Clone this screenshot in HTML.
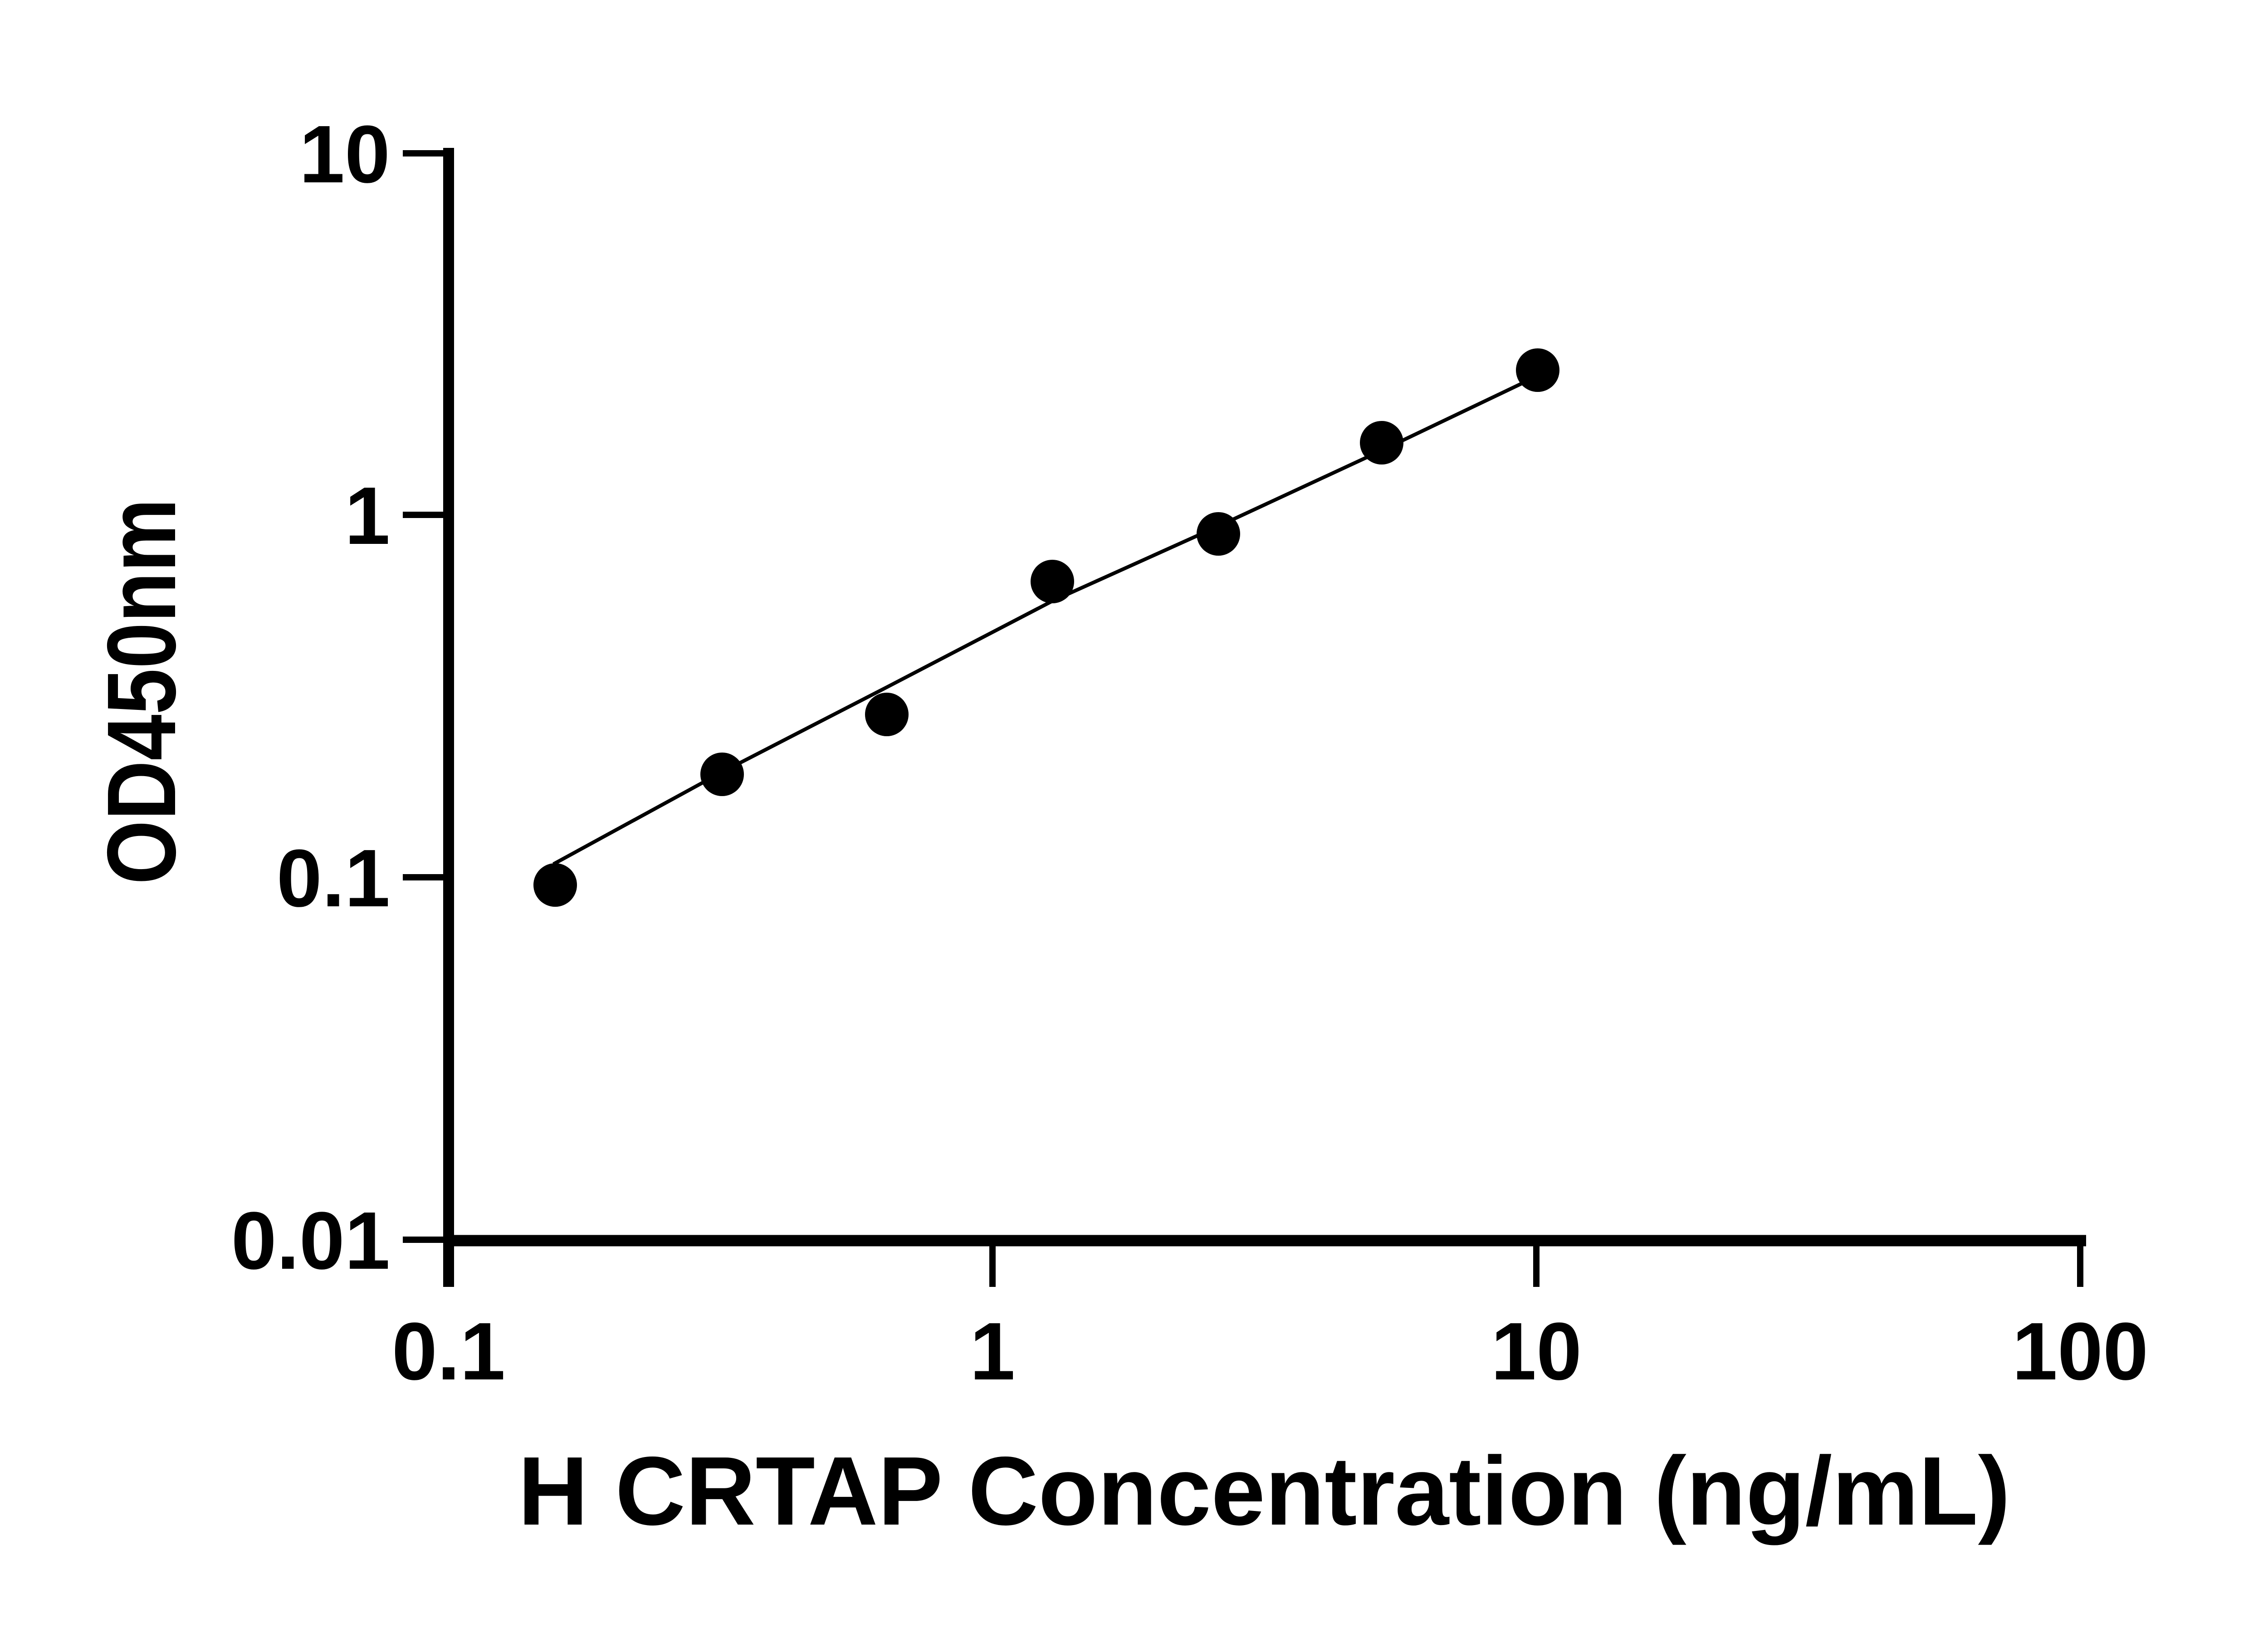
<!DOCTYPE html>
<html><head><meta charset="utf-8"><style>
html,body{margin:0;padding:0;background:#fff;}
svg{display:block;}
text{font-family:"Liberation Sans",sans-serif;font-weight:bold;fill:#000;}
</style></head><body>
<svg width="5142" height="3600" viewBox="0 0 5142 3600" xmlns="http://www.w3.org/2000/svg">
<g stroke="#000" fill="none">
<line x1="989" y1="326" x2="989" y2="2837" stroke-width="24"/>
<line x1="977" y1="2735" x2="4599" y2="2735" stroke-width="25"/>
<g stroke-width="14">
<line x1="888" y1="338" x2="989" y2="338"/>
<line x1="888" y1="1135" x2="989" y2="1135"/>
<line x1="888" y1="1934" x2="989" y2="1934"/>
<line x1="888" y1="2733" x2="989" y2="2733"/>
<line x1="989" y1="2735" x2="989" y2="2837"/>
<line x1="2188" y1="2735" x2="2188" y2="2837"/>
<line x1="3387" y1="2735" x2="3387" y2="2837"/>
<line x1="4586" y1="2735" x2="4586" y2="2837"/>
</g>
<polyline points="1220,1905 1592,1702 1955,1515 2320,1325 2686,1160 3046,993 3387,830" stroke-width="8"/>
</g>
<g fill="#000">
<circle cx="1224" cy="1951" r="48"/>
<circle cx="1592" cy="1707" r="48"/>
<circle cx="1955" cy="1575" r="48"/>
<circle cx="2320" cy="1282" r="48"/>
<circle cx="2686" cy="1177" r="48"/>
<circle cx="3046" cy="976" r="48"/>
<circle cx="3390" cy="816" r="48"/>
</g>
<g font-size="180" text-anchor="end">
<text x="860" y="402">10</text>
<text x="860" y="1199">1</text>
<text x="860" y="1998">0.1</text>
<text x="860" y="2797">0.01</text>
</g>
<g font-size="180" text-anchor="middle">
<text x="989" y="3041">0.1</text>
<text x="2188" y="3041">1</text>
<text x="3387" y="3041">10</text>
<text x="4586" y="3041">100</text>
</g>
<text x="1142" y="3361" font-size="215" textLength="3290" lengthAdjust="spacingAndGlyphs">H CRTAP Concentration (ng/mL)</text>
<text transform="translate(386,1950) rotate(-90)" x="0" y="0" font-size="215" textLength="851" lengthAdjust="spacingAndGlyphs">OD450nm</text>
</svg>
</body></html>
